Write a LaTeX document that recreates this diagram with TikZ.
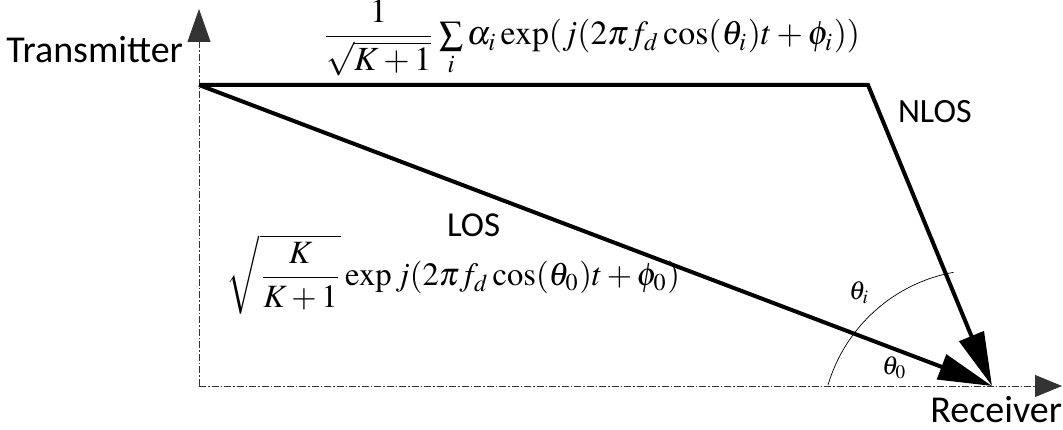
\documentclass[tikz,border=0pt]{standalone}
\usepackage{mathptmx}
\usepackage{fontspec}
\setmainfont{Liberation Serif}
\newfontfamily\calibri{Carlito}
\usepackage{graphicx}
\usetikzlibrary{arrows.meta}
\begin{document}
\begin{tikzpicture}[x=1pt,y=1pt,
  axisline/.style={line width=0.9pt, dash pattern=on 7pt off 2pt on 1.5pt off 2pt, black!80},
  ray/.style={line width=4pt, line join=miter},
  bigtip/.style={-{Triangle[length=54pt,width=26pt]}},
  lbl/.style={inner sep=0pt, outer sep=0pt},
  angarc/.style={line width=0.7pt}]
\useasboundingbox (0,0) rectangle (1063,430);
\coordinate (O) at (199,44);
\coordinate (Tx) at (199,345);
\coordinate (Ytop) at (199,421);
\coordinate (Xend) at (1062,44);
\coordinate (C) at (868,345);
\coordinate (Rx) at (992,44);
% axes
\draw[axisline, -{Triangle[length=33pt,width=23pt]}] (O) -- (Ytop);
\draw[axisline, -{Triangle[length=27pt,width=22pt]}] (O) -- (Xend);
% angle arc
\draw[angarc] (828,45) arc[start angle=163.5, end angle=100.3, radius=161];
% rays
\draw[ray, bigtip] (Tx) -- (Rx);
\draw[ray, bigtip] (Tx) -- (C) -- (Rx);
% labels
\node[lbl, anchor=base east, font=\calibri\fontsize{38}{40}\selectfont] (tx) at (183,367) {Transmitter};
\node[lbl, anchor=base east, font=\calibri\fontsize{38}{40}\selectfont] (rx) at (1062,7) {Receiver};
\node[lbl, anchor=base west, font=\calibri\fontsize{34}{36}\selectfont] (nlos) at (898,307) {NLOS};
\node[lbl, anchor=base west, font=\calibri\fontsize{35}{37}\selectfont] (los) at (447,193) {LOS};
\node[lbl] (nlosf) at (591,392) {\resizebox{538pt}{!}{${\displaystyle\frac{1}{\sqrt{K+1}}}\sum\limits_{i}\alpha_i\exp(j(2\pi f_d\cos(\theta_i)t+\phi_i))$}};
\node[lbl] (losf) at (453.5,155.5) {\resizebox{453pt}{!}{$\sqrt{\displaystyle\frac{K}{K+1}}\exp j(2\pi f_d\cos(\theta_0)t+\phi_0)$}};
\node[lbl, anchor=base west] (thi) at (849,130) {\scalebox{2.6}{$\theta_i$}};
\node[lbl, anchor=base west] (th0) at (882,55) {\scalebox{2.6}{$\theta_0$}};
\end{tikzpicture}
\end{document}
